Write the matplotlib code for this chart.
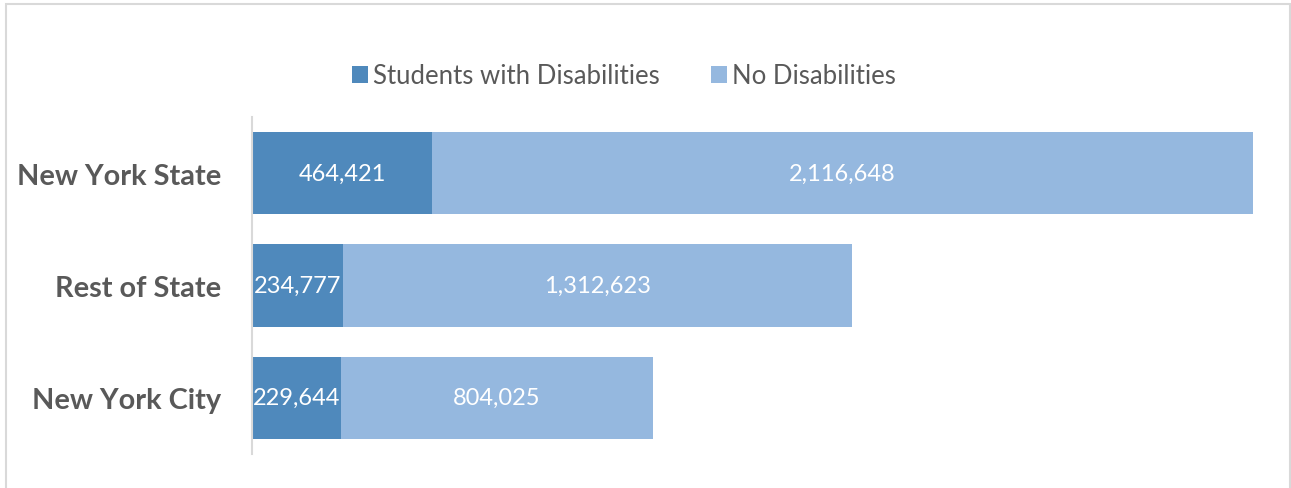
import numpy as np
import matplotlib.pyplot as plt
from matplotlib.patches import Rectangle

# datos
regions = ['New York City', 'Rest of State', 'New York State']
swd = [229644, 234777, 464421]
no_swd = [804025, 1312623, 2116648]
series_names = ['Students with Disabilities', 'No Disabilities']

dark = '#4F89BC'
light = '#95B8DF'
gray_txt = '#595959'

plt.rcParams['font.family'] = ['Lato', 'DejaVu Sans']

fig = plt.figure(figsize=(12.91, 4.89), dpi=100)
ax = fig.add_axes([252 / 1291, 34 / 489, 1008 / 1291, 337 / 489])

y = np.arange(len(regions))
b1 = ax.barh(y, swd, height=0.735, color=dark, label=series_names[0])
b2 = ax.barh(y, no_swd, left=swd, height=0.735, color=light, label=series_names[1])

# etiquetas de valores
for bars in (b1, b2):
    ax.bar_label(bars, labels=[f'{int(v):,}' for v in bars.datavalues],
                 label_type='center', color='white', fontsize=17)

ax.set_xlim(0, 2600000)
ax.set_ylim(-0.5, 2.5)
ax.set_yticks(y)
ax.set_yticklabels(regions, fontsize=20.8, fontweight='bold', color=gray_txt)
ax.tick_params(axis='y', length=0, pad=22)
ax.set_xticks([])
for s in ['top', 'right', 'bottom']:
    ax.spines[s].set_visible(False)
ax.spines['left'].set_color('#D9D9D9')
ax.spines['left'].set_linewidth(1.5)

leg = fig.legend(handles=[b1, b2], loc='center', bbox_to_anchor=(624 / 1291, 1 - 77 / 489),
                 ncol=2, frameon=False, fontsize=18.5, handlelength=0.62, handleheight=0.62,
                 handletextpad=0.2, columnspacing=2.0)
for t in leg.get_texts():
    t.set_color(gray_txt)

# marco exterior
fig.patches.append(Rectangle((6 / 1291, -0.05), 1284 / 1291, 1.04, transform=fig.transFigure,
                             fill=False, edgecolor='#D9D9D9', linewidth=1.5))

fig.savefig('out.png', dpi=100)
